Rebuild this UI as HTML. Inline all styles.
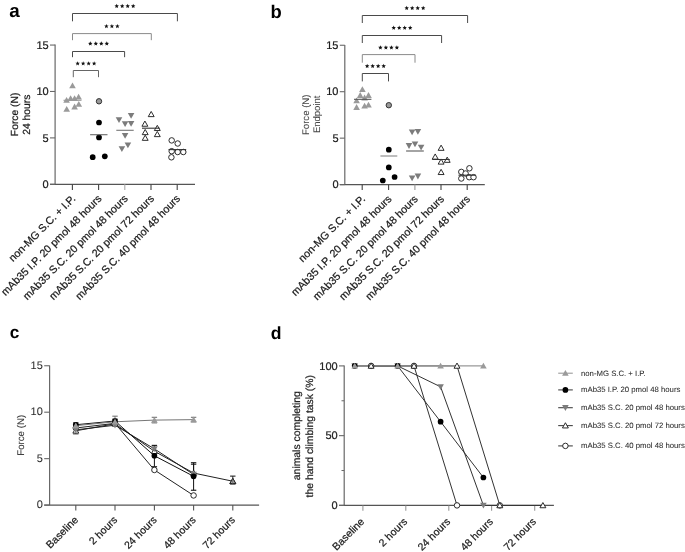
<!DOCTYPE html>
<html><head><meta charset="utf-8"><style>
html,body{margin:0;padding:0;background:#fff;overflow:hidden;}
svg{display:block;filter:blur(0.3px);}
text{font-family:"Liberation Sans",sans-serif;}
</style></head><body>
<svg style="text-rendering:geometricPrecision" width="685" height="552" viewBox="0 0 685 552" font-family="Liberation Sans, sans-serif">
<rect width="685" height="552" fill="#fff"/>
<text x="9.2" y="17.4" font-size="18.8" text-anchor="start" fill="#000" font-weight="bold">a</text>
<text x="270.6" y="17.9" font-size="18.4" text-anchor="start" fill="#000" font-weight="bold">b</text>
<text x="9.8" y="338.3" font-size="17.2" text-anchor="start" fill="#000" font-weight="bold">c</text>
<text x="270.8" y="338.8" font-size="17.6" text-anchor="start" fill="#000" font-weight="bold">d</text>
<line x1="55.10" y1="44.60" x2="55.10" y2="184.30" stroke="#686868" stroke-width="1.2"/>
<line x1="50.00" y1="184.30" x2="195.00" y2="184.30" stroke="#555" stroke-width="1.2"/>
<line x1="50.00" y1="184.30" x2="55.10" y2="184.30" stroke="#686868" stroke-width="1.1"/>
<text x="48.7" y="188.20000000000002" font-size="11.0" text-anchor="end" fill="#1a1a1a" font-weight="normal" stroke="#1a1a1a" stroke-width="0.22">0</text>
<line x1="50.00" y1="137.89" x2="55.10" y2="137.89" stroke="#686868" stroke-width="1.1"/>
<text x="48.7" y="141.78500000000003" font-size="11.0" text-anchor="end" fill="#1a1a1a" font-weight="normal" stroke="#1a1a1a" stroke-width="0.22">5</text>
<line x1="50.00" y1="91.47" x2="55.10" y2="91.47" stroke="#686868" stroke-width="1.1"/>
<text x="48.7" y="95.37000000000002" font-size="11.0" text-anchor="end" fill="#1a1a1a" font-weight="normal" stroke="#1a1a1a" stroke-width="0.22">10</text>
<line x1="50.00" y1="45.06" x2="55.10" y2="45.06" stroke="#686868" stroke-width="1.1"/>
<text x="48.7" y="48.955000000000005" font-size="11.0" text-anchor="end" fill="#1a1a1a" font-weight="normal" stroke="#1a1a1a" stroke-width="0.22">15</text>
<line x1="72.40" y1="184.30" x2="72.40" y2="189.90" stroke="#444" stroke-width="1.1"/>
<line x1="98.60" y1="184.30" x2="98.60" y2="189.90" stroke="#444" stroke-width="1.1"/>
<line x1="124.80" y1="184.30" x2="124.80" y2="189.90" stroke="#aaa" stroke-width="1.1"/>
<line x1="151.00" y1="184.30" x2="151.00" y2="189.90" stroke="#444" stroke-width="1.1"/>
<line x1="177.20" y1="184.30" x2="177.20" y2="189.90" stroke="#444" stroke-width="1.1"/>
<text x="17.8" y="114.4" font-size="10.3" text-anchor="middle" fill="#1a1a1a" font-weight="normal" stroke="#1a1a1a" stroke-width="0.22" transform="rotate(-90 17.8 114.4)">Force (N)</text>
<text x="30.1" y="114.7" font-size="10.3" text-anchor="middle" fill="#1a1a1a" font-weight="normal" stroke="#1a1a1a" stroke-width="0.22" transform="rotate(-90 30.1 114.7)">24 hours</text>
<polyline points="72.5,21.3 72.5,13.5 177.4,13.5 177.4,21.3" fill="none" stroke="#4a4a4a" stroke-width="1.0"/>
<polygon points="116.70,3.85 117.32,5.35 118.93,5.47 117.70,6.52 118.08,8.10 116.70,7.25 115.32,8.10 115.70,6.52 114.47,5.47 116.08,5.35" fill="#111"/>
<polygon points="122.20,3.85 122.82,5.35 124.43,5.47 123.20,6.52 123.58,8.10 122.20,7.25 120.82,8.10 121.20,6.52 119.97,5.47 121.58,5.35" fill="#111"/>
<polygon points="127.70,3.85 128.32,5.35 129.93,5.47 128.70,6.52 129.08,8.10 127.70,7.25 126.32,8.10 126.70,6.52 125.47,5.47 127.08,5.35" fill="#111"/>
<polygon points="133.20,3.85 133.82,5.35 135.43,5.47 134.20,6.52 134.58,8.10 133.20,7.25 131.82,8.10 132.20,6.52 130.97,5.47 132.58,5.35" fill="#111"/>
<polyline points="72.5,40.2 72.5,33.6 151.3,33.6 151.3,40.2" fill="none" stroke="#8a8a8a" stroke-width="1.0"/>
<polygon points="106.40,23.95 107.02,25.45 108.63,25.57 107.40,26.62 107.78,28.20 106.40,27.35 105.02,28.20 105.40,26.62 104.17,25.57 105.78,25.45" fill="#111"/>
<polygon points="111.90,23.95 112.52,25.45 114.13,25.57 112.90,26.62 113.28,28.20 111.90,27.35 110.52,28.20 110.90,26.62 109.67,25.57 111.28,25.45" fill="#111"/>
<polygon points="117.40,23.95 118.02,25.45 119.63,25.57 118.40,26.62 118.78,28.20 117.40,27.35 116.02,28.20 116.40,26.62 115.17,25.57 116.78,25.45" fill="#111"/>
<polyline points="72.5,57.2 72.5,51.5 124.6,51.5 124.6,57.2" fill="none" stroke="#4a4a4a" stroke-width="1.0"/>
<polygon points="90.30,41.35 90.92,42.85 92.53,42.97 91.30,44.02 91.68,45.60 90.30,44.75 88.92,45.60 89.30,44.02 88.07,42.97 89.68,42.85" fill="#111"/>
<polygon points="95.80,41.35 96.42,42.85 98.03,42.97 96.80,44.02 97.18,45.60 95.80,44.75 94.42,45.60 94.80,44.02 93.57,42.97 95.18,42.85" fill="#111"/>
<polygon points="101.30,41.35 101.92,42.85 103.53,42.97 102.30,44.02 102.68,45.60 101.30,44.75 99.92,45.60 100.30,44.02 99.07,42.97 100.68,42.85" fill="#111"/>
<polygon points="106.80,41.35 107.42,42.85 109.03,42.97 107.80,44.02 108.18,45.60 106.80,44.75 105.42,45.60 105.80,44.02 104.57,42.97 106.18,42.85" fill="#111"/>
<polyline points="73.3,77.2 73.3,70.5 98.5,70.5 98.5,77.2" fill="none" stroke="#666" stroke-width="1.0"/>
<polygon points="77.65,61.15 78.27,62.65 79.88,62.77 78.65,63.82 79.03,65.40 77.65,64.55 76.27,65.40 76.65,63.82 75.42,62.77 77.03,62.65" fill="#111"/>
<polygon points="83.15,61.15 83.77,62.65 85.38,62.77 84.15,63.82 84.53,65.40 83.15,64.55 81.77,65.40 82.15,63.82 80.92,62.77 82.53,62.65" fill="#111"/>
<polygon points="88.65,61.15 89.27,62.65 90.88,62.77 89.65,63.82 90.03,65.40 88.65,64.55 87.27,65.40 87.65,63.82 86.42,62.77 88.03,62.65" fill="#111"/>
<polygon points="94.15,61.15 94.77,62.65 96.38,62.77 95.15,63.82 95.53,65.40 94.15,64.55 92.77,65.40 93.15,63.82 91.92,62.77 93.53,62.65" fill="#111"/>
<polygon points="72.50,82.51 69.20,88.31 75.80,88.31" fill="#9a9a9a" stroke="none" stroke-width="1.0" stroke-linejoin="miter"/>
<polygon points="66.60,97.01 63.30,102.81 69.90,102.81" fill="#9a9a9a" stroke="none" stroke-width="1.0" stroke-linejoin="miter"/>
<polygon points="70.60,95.21 67.30,101.01 73.90,101.01" fill="#9a9a9a" stroke="none" stroke-width="1.0" stroke-linejoin="miter"/>
<polygon points="74.60,95.21 71.30,101.01 77.90,101.01" fill="#9a9a9a" stroke="none" stroke-width="1.0" stroke-linejoin="miter"/>
<polygon points="78.60,93.71 75.30,99.51 81.90,99.51" fill="#9a9a9a" stroke="none" stroke-width="1.0" stroke-linejoin="miter"/>
<polygon points="78.80,101.01 75.50,106.81 82.10,106.81" fill="#9a9a9a" stroke="none" stroke-width="1.0" stroke-linejoin="miter"/>
<polygon points="74.60,103.61 71.30,109.41 77.90,109.41" fill="#9a9a9a" stroke="none" stroke-width="1.0" stroke-linejoin="miter"/>
<polygon points="66.70,105.91 63.40,111.71 70.00,111.71" fill="#9a9a9a" stroke="none" stroke-width="1.0" stroke-linejoin="miter"/>
<line x1="63.50" y1="100.30" x2="81.50" y2="100.30" stroke="#9a9a9a" stroke-width="1.1"/>
<circle cx="99.00" cy="101.30" r="2.7" fill="#9a9a9a" stroke="#333" stroke-width="1.0"/>
<circle cx="99.00" cy="122.50" r="2.85" fill="#000" stroke="none" stroke-width="1.0"/>
<circle cx="99.00" cy="137.40" r="2.85" fill="#000" stroke="none" stroke-width="1.0"/>
<circle cx="92.70" cy="157.20" r="2.85" fill="#000" stroke="none" stroke-width="1.0"/>
<circle cx="104.80" cy="156.30" r="2.85" fill="#000" stroke="none" stroke-width="1.0"/>
<line x1="90.10" y1="134.70" x2="107.50" y2="134.70" stroke="#6a6a6a" stroke-width="1.1"/>
<polygon points="131.10,118.79 127.80,112.99 134.40,112.99" fill="#7c7c7c" stroke="none" stroke-width="1.0" stroke-linejoin="miter"/>
<polygon points="119.00,123.09 115.70,117.29 122.30,117.29" fill="#7c7c7c" stroke="none" stroke-width="1.0" stroke-linejoin="miter"/>
<polygon points="125.10,127.09 121.80,121.29 128.40,121.29" fill="#7c7c7c" stroke="none" stroke-width="1.0" stroke-linejoin="miter"/>
<polygon points="131.10,126.79 127.80,120.99 134.40,120.99" fill="#7c7c7c" stroke="none" stroke-width="1.0" stroke-linejoin="miter"/>
<polygon points="125.10,138.69 121.80,132.89 128.40,132.89" fill="#7c7c7c" stroke="none" stroke-width="1.0" stroke-linejoin="miter"/>
<polygon points="127.90,148.29 124.60,142.49 131.20,142.49" fill="#7c7c7c" stroke="none" stroke-width="1.0" stroke-linejoin="miter"/>
<polygon points="121.90,151.99 118.60,146.19 125.20,146.19" fill="#7c7c7c" stroke="none" stroke-width="1.0" stroke-linejoin="miter"/>
<line x1="116.30" y1="130.30" x2="133.70" y2="130.30" stroke="#777" stroke-width="1.1"/>
<polygon points="151.20,111.44 148.25,116.64 154.15,116.64" fill="#fff" stroke="#222" stroke-width="0.95" stroke-linejoin="miter"/>
<polygon points="144.90,121.04 141.95,126.24 147.85,126.24" fill="#fff" stroke="#222" stroke-width="0.95" stroke-linejoin="miter"/>
<polygon points="157.30,125.34 154.35,130.54 160.25,130.54" fill="#fff" stroke="#222" stroke-width="0.95" stroke-linejoin="miter"/>
<polygon points="145.20,129.44 142.25,134.64 148.15,134.64" fill="#fff" stroke="#222" stroke-width="0.95" stroke-linejoin="miter"/>
<polygon points="157.30,131.44 154.35,136.64 160.25,136.64" fill="#fff" stroke="#222" stroke-width="0.95" stroke-linejoin="miter"/>
<polygon points="145.20,135.14 142.25,140.34 148.15,140.34" fill="#fff" stroke="#222" stroke-width="0.95" stroke-linejoin="miter"/>
<line x1="142.00" y1="128.20" x2="159.70" y2="128.20" stroke="#333" stroke-width="1.1"/>
<circle cx="171.70" cy="140.40" r="2.75" fill="#fff" stroke="#222" stroke-width="0.95"/>
<circle cx="177.70" cy="143.50" r="2.75" fill="#fff" stroke="#222" stroke-width="0.95"/>
<circle cx="171.70" cy="151.20" r="2.75" fill="#fff" stroke="#222" stroke-width="0.95"/>
<circle cx="177.70" cy="152.00" r="2.75" fill="#fff" stroke="#222" stroke-width="0.95"/>
<circle cx="183.30" cy="152.00" r="2.75" fill="#fff" stroke="#222" stroke-width="0.95"/>
<circle cx="171.40" cy="157.30" r="2.75" fill="#fff" stroke="#222" stroke-width="0.95"/>
<line x1="168.50" y1="149.60" x2="186.20" y2="149.60" stroke="#333" stroke-width="1.1"/>
<text x="76.10000000000001" y="199.3" font-size="10.7" text-anchor="end" fill="#1a1a1a" font-weight="normal" stroke="#1a1a1a" stroke-width="0.22" transform="rotate(-45 76.10000000000001 199.3)">non-MG S.C. + I.P.</text>
<text x="102.3" y="199.3" font-size="10.7" text-anchor="end" fill="#1a1a1a" font-weight="normal" stroke="#1a1a1a" stroke-width="0.22" transform="rotate(-45 102.3 199.3)">mAb35 I.P. 20 pmol 48 hours</text>
<text x="128.5" y="199.3" font-size="10.7" text-anchor="end" fill="#1a1a1a" font-weight="normal" stroke="#1a1a1a" stroke-width="0.22" transform="rotate(-45 128.5 199.3)">mAb35 S.C. 20 pmol 48 hours</text>
<text x="154.7" y="199.3" font-size="10.7" text-anchor="end" fill="#1a1a1a" font-weight="normal" stroke="#1a1a1a" stroke-width="0.22" transform="rotate(-45 154.7 199.3)">mAb35 S.C. 20 pmol 72 hours</text>
<text x="180.89999999999998" y="199.3" font-size="10.7" text-anchor="end" fill="#1a1a1a" font-weight="normal" stroke="#1a1a1a" stroke-width="0.22" transform="rotate(-45 180.89999999999998 199.3)">mAb35 S.C. 40 pmol 48 hours</text>
<line x1="344.80" y1="44.90" x2="344.80" y2="184.60" stroke="#686868" stroke-width="1.2"/>
<line x1="339.80" y1="184.60" x2="484.80" y2="184.60" stroke="#555" stroke-width="1.2"/>
<line x1="339.80" y1="184.60" x2="344.80" y2="184.60" stroke="#686868" stroke-width="1.1"/>
<text x="338.5" y="188.1" font-size="11.0" text-anchor="end" fill="#1a1a1a" font-weight="normal" stroke="#1a1a1a" stroke-width="0.22">0</text>
<line x1="339.80" y1="138.15" x2="344.80" y2="138.15" stroke="#686868" stroke-width="1.1"/>
<text x="338.5" y="141.65" font-size="11.0" text-anchor="end" fill="#1a1a1a" font-weight="normal" stroke="#1a1a1a" stroke-width="0.22">5</text>
<line x1="339.80" y1="91.70" x2="344.80" y2="91.70" stroke="#686868" stroke-width="1.1"/>
<text x="338.5" y="95.2" font-size="11.0" text-anchor="end" fill="#1a1a1a" font-weight="normal" stroke="#1a1a1a" stroke-width="0.22">10</text>
<line x1="339.80" y1="45.25" x2="344.80" y2="45.25" stroke="#686868" stroke-width="1.1"/>
<text x="338.5" y="48.75" font-size="11.0" text-anchor="end" fill="#1a1a1a" font-weight="normal" stroke="#1a1a1a" stroke-width="0.22">15</text>
<line x1="362.20" y1="184.60" x2="362.20" y2="189.90" stroke="#444" stroke-width="1.1"/>
<line x1="388.60" y1="184.60" x2="388.60" y2="189.90" stroke="#444" stroke-width="1.1"/>
<line x1="414.90" y1="184.60" x2="414.90" y2="189.90" stroke="#999" stroke-width="1.1"/>
<line x1="441.00" y1="184.60" x2="441.00" y2="189.90" stroke="#444" stroke-width="1.1"/>
<line x1="467.20" y1="184.60" x2="467.20" y2="189.90" stroke="#444" stroke-width="1.1"/>
<text x="309.4" y="114.8" font-size="9.6" text-anchor="middle" fill="#444" font-weight="normal" stroke="#444" stroke-width="0.05" transform="rotate(-90 309.4 114.8)">Force (N)</text>
<text x="320.3" y="114.3" font-size="9.5" text-anchor="middle" fill="#444" font-weight="normal" stroke="#444" stroke-width="0.05" transform="rotate(-90 320.3 114.3)">Endpoint</text>
<polyline points="362.3,23.0 362.3,15.5 467.6,15.5 467.6,23.0" fill="none" stroke="#4a4a4a" stroke-width="1.0"/>
<polygon points="406.70,5.85 407.32,7.35 408.93,7.47 407.70,8.52 408.08,10.10 406.70,9.25 405.32,10.10 405.70,8.52 404.47,7.47 406.08,7.35" fill="#111"/>
<polygon points="412.20,5.85 412.82,7.35 414.43,7.47 413.20,8.52 413.58,10.10 412.20,9.25 410.82,10.10 411.20,8.52 409.97,7.47 411.58,7.35" fill="#111"/>
<polygon points="417.70,5.85 418.32,7.35 419.93,7.47 418.70,8.52 419.08,10.10 417.70,9.25 416.32,10.10 416.70,8.52 415.47,7.47 417.08,7.35" fill="#111"/>
<polygon points="423.20,5.85 423.82,7.35 425.43,7.47 424.20,8.52 424.58,10.10 423.20,9.25 421.82,10.10 422.20,8.52 420.97,7.47 422.58,7.35" fill="#111"/>
<polyline points="362.3,43.0 362.3,35.5 441.6,35.5 441.6,43.0" fill="none" stroke="#4a4a4a" stroke-width="1.0"/>
<polygon points="393.70,25.55 394.32,27.05 395.93,27.17 394.70,28.22 395.08,29.80 393.70,28.95 392.32,29.80 392.70,28.22 391.47,27.17 393.08,27.05" fill="#111"/>
<polygon points="399.20,25.55 399.82,27.05 401.43,27.17 400.20,28.22 400.58,29.80 399.20,28.95 397.82,29.80 398.20,28.22 396.97,27.17 398.58,27.05" fill="#111"/>
<polygon points="404.70,25.55 405.32,27.05 406.93,27.17 405.70,28.22 406.08,29.80 404.70,28.95 403.32,29.80 403.70,28.22 402.47,27.17 404.08,27.05" fill="#111"/>
<polygon points="410.20,25.55 410.82,27.05 412.43,27.17 411.20,28.22 411.58,29.80 410.20,28.95 408.82,29.80 409.20,28.22 407.97,27.17 409.58,27.05" fill="#111"/>
<polyline points="362.3,62.7 362.3,54.6 415.0,54.6 415.0,62.7" fill="none" stroke="#8a8a8a" stroke-width="1.0"/>
<polygon points="380.40,45.25 381.02,46.75 382.63,46.87 381.40,47.92 381.78,49.50 380.40,48.65 379.02,49.50 379.40,47.92 378.17,46.87 379.78,46.75" fill="#111"/>
<polygon points="385.90,45.25 386.52,46.75 388.13,46.87 386.90,47.92 387.28,49.50 385.90,48.65 384.52,49.50 384.90,47.92 383.67,46.87 385.28,46.75" fill="#111"/>
<polygon points="391.40,45.25 392.02,46.75 393.63,46.87 392.40,47.92 392.78,49.50 391.40,48.65 390.02,49.50 390.40,47.92 389.17,46.87 390.78,46.75" fill="#111"/>
<polygon points="396.90,45.25 397.52,46.75 399.13,46.87 397.90,47.92 398.28,49.50 396.90,48.65 395.52,49.50 395.90,47.92 394.67,46.87 396.28,46.75" fill="#111"/>
<polyline points="362.3,81.4 362.3,73.5 388.5,73.5 388.5,81.4" fill="none" stroke="#4a4a4a" stroke-width="1.0"/>
<polygon points="367.15,63.75 367.77,65.25 369.38,65.37 368.15,66.42 368.53,68.00 367.15,67.15 365.77,68.00 366.15,66.42 364.92,65.37 366.53,65.25" fill="#111"/>
<polygon points="372.65,63.75 373.27,65.25 374.88,65.37 373.65,66.42 374.03,68.00 372.65,67.15 371.27,68.00 371.65,66.42 370.42,65.37 372.03,65.25" fill="#111"/>
<polygon points="378.15,63.75 378.77,65.25 380.38,65.37 379.15,66.42 379.53,68.00 378.15,67.15 376.77,68.00 377.15,66.42 375.92,65.37 377.53,65.25" fill="#111"/>
<polygon points="383.65,63.75 384.27,65.25 385.88,65.37 384.65,66.42 385.03,68.00 383.65,67.15 382.27,68.00 382.65,66.42 381.42,65.37 383.03,65.25" fill="#111"/>
<polygon points="362.40,86.31 359.10,92.11 365.70,92.11" fill="#9a9a9a" stroke="none" stroke-width="1.0" stroke-linejoin="miter"/>
<polygon points="360.20,92.11 356.90,97.91 363.50,97.91" fill="#9a9a9a" stroke="none" stroke-width="1.0" stroke-linejoin="miter"/>
<polygon points="368.50,92.11 365.20,97.91 371.80,97.91" fill="#9a9a9a" stroke="none" stroke-width="1.0" stroke-linejoin="miter"/>
<polygon points="364.60,94.61 361.30,100.41 367.90,100.41" fill="#9a9a9a" stroke="none" stroke-width="1.0" stroke-linejoin="miter"/>
<polygon points="356.60,97.51 353.30,103.31 359.90,103.31" fill="#9a9a9a" stroke="none" stroke-width="1.0" stroke-linejoin="miter"/>
<polygon points="364.60,102.71 361.30,108.51 367.90,108.51" fill="#9a9a9a" stroke="none" stroke-width="1.0" stroke-linejoin="miter"/>
<polygon points="368.50,101.81 365.20,107.61 371.80,107.61" fill="#9a9a9a" stroke="none" stroke-width="1.0" stroke-linejoin="miter"/>
<polygon points="356.60,104.11 353.30,109.91 359.90,109.91" fill="#9a9a9a" stroke="none" stroke-width="1.0" stroke-linejoin="miter"/>
<line x1="354.00" y1="99.30" x2="371.40" y2="99.30" stroke="#555" stroke-width="1.1"/>
<circle cx="388.80" cy="105.20" r="2.7" fill="#9a9a9a" stroke="#333" stroke-width="1.0"/>
<circle cx="388.80" cy="149.70" r="2.85" fill="#000" stroke="none" stroke-width="1.0"/>
<circle cx="388.80" cy="167.40" r="2.85" fill="#000" stroke="none" stroke-width="1.0"/>
<circle cx="382.80" cy="180.50" r="2.85" fill="#000" stroke="none" stroke-width="1.0"/>
<circle cx="394.60" cy="177.00" r="2.85" fill="#000" stroke="none" stroke-width="1.0"/>
<line x1="380.40" y1="156.00" x2="397.30" y2="156.00" stroke="#888" stroke-width="1.1"/>
<polygon points="412.10,135.19 408.80,129.39 415.40,129.39" fill="#7c7c7c" stroke="none" stroke-width="1.0" stroke-linejoin="miter"/>
<polygon points="417.90,134.79 414.60,128.99 421.20,128.99" fill="#7c7c7c" stroke="none" stroke-width="1.0" stroke-linejoin="miter"/>
<polygon points="409.00,148.89 405.70,143.09 412.30,143.09" fill="#7c7c7c" stroke="none" stroke-width="1.0" stroke-linejoin="miter"/>
<polygon points="415.00,147.29 411.70,141.49 418.30,141.49" fill="#7c7c7c" stroke="none" stroke-width="1.0" stroke-linejoin="miter"/>
<polygon points="421.10,150.49 417.80,144.69 424.40,144.69" fill="#7c7c7c" stroke="none" stroke-width="1.0" stroke-linejoin="miter"/>
<polygon points="412.10,181.29 408.80,175.49 415.40,175.49" fill="#7c7c7c" stroke="none" stroke-width="1.0" stroke-linejoin="miter"/>
<polygon points="417.90,179.39 414.60,173.59 421.20,173.59" fill="#7c7c7c" stroke="none" stroke-width="1.0" stroke-linejoin="miter"/>
<line x1="406.10" y1="151.00" x2="423.80" y2="151.00" stroke="#5a5a5a" stroke-width="1.1"/>
<polygon points="441.10,145.14 438.15,150.34 444.05,150.34" fill="#fff" stroke="#222" stroke-width="0.95" stroke-linejoin="miter"/>
<polygon points="435.20,153.94 432.25,159.14 438.15,159.14" fill="#fff" stroke="#222" stroke-width="0.95" stroke-linejoin="miter"/>
<polygon points="441.10,158.94 438.15,164.14 444.05,164.14" fill="#fff" stroke="#222" stroke-width="0.95" stroke-linejoin="miter"/>
<polygon points="447.20,157.14 444.25,162.34 450.15,162.34" fill="#fff" stroke="#222" stroke-width="0.95" stroke-linejoin="miter"/>
<polygon points="441.10,169.34 438.15,174.54 444.05,174.54" fill="#fff" stroke="#222" stroke-width="0.95" stroke-linejoin="miter"/>
<line x1="432.30" y1="159.50" x2="449.80" y2="159.50" stroke="#333" stroke-width="1.0"/>
<circle cx="469.40" cy="168.30" r="2.75" fill="#fff" stroke="#222" stroke-width="0.95"/>
<circle cx="461.30" cy="171.90" r="2.75" fill="#fff" stroke="#222" stroke-width="0.95"/>
<circle cx="465.60" cy="173.50" r="2.75" fill="#fff" stroke="#222" stroke-width="0.95"/>
<circle cx="461.30" cy="178.50" r="2.75" fill="#fff" stroke="#222" stroke-width="0.95"/>
<circle cx="469.20" cy="177.20" r="2.75" fill="#fff" stroke="#222" stroke-width="0.95"/>
<circle cx="473.50" cy="177.20" r="2.75" fill="#fff" stroke="#222" stroke-width="0.95"/>
<line x1="458.50" y1="175.20" x2="475.80" y2="175.20" stroke="#333" stroke-width="1.1"/>
<text x="365.9" y="199.6" font-size="10.7" text-anchor="end" fill="#1a1a1a" font-weight="normal" stroke="#1a1a1a" stroke-width="0.22" transform="rotate(-45 365.9 199.6)">non-MG S.C. + I.P.</text>
<text x="392.3" y="199.6" font-size="10.7" text-anchor="end" fill="#1a1a1a" font-weight="normal" stroke="#1a1a1a" stroke-width="0.22" transform="rotate(-45 392.3 199.6)">mAb35 I.P. 20 pmol 48 hours</text>
<text x="418.59999999999997" y="199.6" font-size="10.7" text-anchor="end" fill="#1a1a1a" font-weight="normal" stroke="#1a1a1a" stroke-width="0.22" transform="rotate(-45 418.59999999999997 199.6)">mAb35 S.C. 20 pmol 48 hours</text>
<text x="444.7" y="199.6" font-size="10.7" text-anchor="end" fill="#1a1a1a" font-weight="normal" stroke="#1a1a1a" stroke-width="0.22" transform="rotate(-45 444.7 199.6)">mAb35 S.C. 20 pmol 72 hours</text>
<text x="470.9" y="199.6" font-size="10.7" text-anchor="end" fill="#1a1a1a" font-weight="normal" stroke="#1a1a1a" stroke-width="0.22" transform="rotate(-45 470.9 199.6)">mAb35 S.C. 40 pmol 48 hours</text>
<line x1="49.60" y1="365.40" x2="49.60" y2="505.10" stroke="#686868" stroke-width="1.2"/>
<line x1="44.20" y1="505.10" x2="259.10" y2="505.10" stroke="#555" stroke-width="1.2"/>
<line x1="44.20" y1="505.10" x2="49.60" y2="505.10" stroke="#686868" stroke-width="1.1"/>
<text x="42.8" y="508.3" font-size="11.0" text-anchor="end" fill="#2a2a2a" font-weight="normal" stroke="#2a2a2a" stroke-width="0.05">0</text>
<line x1="44.20" y1="458.65" x2="49.60" y2="458.65" stroke="#686868" stroke-width="1.1"/>
<text x="42.8" y="461.85" font-size="11.0" text-anchor="end" fill="#2a2a2a" font-weight="normal" stroke="#2a2a2a" stroke-width="0.05">5</text>
<line x1="44.20" y1="412.20" x2="49.60" y2="412.20" stroke="#686868" stroke-width="1.1"/>
<text x="42.8" y="415.40000000000003" font-size="11.0" text-anchor="end" fill="#2a2a2a" font-weight="normal" stroke="#2a2a2a" stroke-width="0.05">10</text>
<line x1="44.20" y1="365.75" x2="49.60" y2="365.75" stroke="#686868" stroke-width="1.1"/>
<text x="42.8" y="368.95" font-size="11.0" text-anchor="end" fill="#2a2a2a" font-weight="normal" stroke="#2a2a2a" stroke-width="0.05">15</text>
<line x1="75.80" y1="505.10" x2="75.80" y2="510.60" stroke="#555" stroke-width="1.1"/>
<line x1="115.00" y1="505.10" x2="115.00" y2="510.60" stroke="#555" stroke-width="1.1"/>
<line x1="154.40" y1="505.10" x2="154.40" y2="510.60" stroke="#555" stroke-width="1.1"/>
<line x1="193.60" y1="505.10" x2="193.60" y2="510.60" stroke="#555" stroke-width="1.1"/>
<line x1="232.80" y1="505.10" x2="232.80" y2="510.60" stroke="#555" stroke-width="1.1"/>
<text x="23.6" y="435.3" font-size="9.7" text-anchor="middle" fill="#404040" font-weight="normal" stroke="#404040" stroke-width="0.1" transform="rotate(-90 23.6 435.3)">Force (N)</text>
<text x="78.8" y="520.6" font-size="10.5" text-anchor="end" fill="#1a1a1a" font-weight="normal" stroke="#1a1a1a" stroke-width="0.22" transform="rotate(-45 78.8 520.6)">Baseline</text>
<text x="118.0" y="520.6" font-size="10.5" text-anchor="end" fill="#1a1a1a" font-weight="normal" stroke="#1a1a1a" stroke-width="0.22" transform="rotate(-45 118.0 520.6)">2 hours</text>
<text x="157.4" y="520.6" font-size="10.5" text-anchor="end" fill="#1a1a1a" font-weight="normal" stroke="#1a1a1a" stroke-width="0.22" transform="rotate(-45 157.4 520.6)">24 hours</text>
<text x="196.6" y="520.6" font-size="10.5" text-anchor="end" fill="#1a1a1a" font-weight="normal" stroke="#1a1a1a" stroke-width="0.22" transform="rotate(-45 196.6 520.6)">48 hours</text>
<text x="235.8" y="520.6" font-size="10.5" text-anchor="end" fill="#1a1a1a" font-weight="normal" stroke="#1a1a1a" stroke-width="0.22" transform="rotate(-45 235.8 520.6)">72 hours</text>
<polyline points="75.8,427.99 115.0,423.35 154.4,469.98 193.6,495.44" fill="none" stroke="#222" stroke-width="1.0"/>
<polyline points="75.8,430.78 115.0,423.81 154.4,451.22 193.6,473.05 232.8,481.22" fill="none" stroke="#222" stroke-width="1.0"/>
<polyline points="75.8,429.85 115.0,425.21 154.4,448.90 193.6,474.44" fill="none" stroke="#222" stroke-width="1.0"/>
<polyline points="75.8,424.74 115.0,421.03 154.4,455.77 193.6,476.30" fill="none" stroke="#111" stroke-width="1.0"/>
<polyline points="75.8,425.67 115.0,421.77 154.4,420.10 193.6,419.63" fill="none" stroke="#767676" stroke-width="1.0"/>
<line x1="193.60" y1="464.22" x2="193.60" y2="473.05" stroke="#222" stroke-width="1.0"/>
<line x1="190.90" y1="464.22" x2="196.30" y2="464.22" stroke="#222" stroke-width="1.1"/>
<line x1="232.80" y1="476.12" x2="232.80" y2="481.22" stroke="#222" stroke-width="1.0"/>
<line x1="230.10" y1="476.12" x2="235.50" y2="476.12" stroke="#222" stroke-width="1.1"/>
<line x1="232.80" y1="481.22" x2="232.80" y2="484.01" stroke="#222" stroke-width="1.0"/>
<line x1="230.10" y1="484.01" x2="235.50" y2="484.01" stroke="#222" stroke-width="1.1"/>
<line x1="75.80" y1="422.88" x2="75.80" y2="424.74" stroke="#111" stroke-width="1.0"/>
<line x1="73.10" y1="422.88" x2="78.50" y2="422.88" stroke="#111" stroke-width="1.1"/>
<line x1="115.00" y1="419.17" x2="115.00" y2="421.03" stroke="#111" stroke-width="1.0"/>
<line x1="112.30" y1="419.17" x2="117.70" y2="419.17" stroke="#111" stroke-width="1.1"/>
<line x1="154.40" y1="445.37" x2="154.40" y2="455.77" stroke="#111" stroke-width="1.0"/>
<line x1="151.70" y1="445.37" x2="157.10" y2="445.37" stroke="#111" stroke-width="1.1"/>
<line x1="154.40" y1="455.77" x2="154.40" y2="466.73" stroke="#111" stroke-width="1.0"/>
<line x1="151.70" y1="466.73" x2="157.10" y2="466.73" stroke="#111" stroke-width="1.1"/>
<line x1="193.60" y1="462.74" x2="193.60" y2="476.30" stroke="#111" stroke-width="1.0"/>
<line x1="190.90" y1="462.74" x2="196.30" y2="462.74" stroke="#111" stroke-width="1.1"/>
<line x1="193.60" y1="476.30" x2="193.60" y2="490.24" stroke="#111" stroke-width="1.0"/>
<line x1="190.90" y1="490.24" x2="196.30" y2="490.24" stroke="#111" stroke-width="1.1"/>
<line x1="75.80" y1="425.67" x2="75.80" y2="434.03" stroke="#767676" stroke-width="1.0"/>
<line x1="73.10" y1="434.03" x2="78.50" y2="434.03" stroke="#767676" stroke-width="1.1"/>
<line x1="115.00" y1="416.19" x2="115.00" y2="421.77" stroke="#767676" stroke-width="1.0"/>
<line x1="112.30" y1="416.19" x2="117.70" y2="416.19" stroke="#767676" stroke-width="1.1"/>
<line x1="154.40" y1="417.31" x2="154.40" y2="420.10" stroke="#767676" stroke-width="1.0"/>
<line x1="151.70" y1="417.31" x2="157.10" y2="417.31" stroke="#767676" stroke-width="1.1"/>
<line x1="154.40" y1="420.10" x2="154.40" y2="422.88" stroke="#767676" stroke-width="1.0"/>
<line x1="151.70" y1="422.88" x2="157.10" y2="422.88" stroke="#767676" stroke-width="1.1"/>
<line x1="193.60" y1="417.31" x2="193.60" y2="419.63" stroke="#767676" stroke-width="1.0"/>
<line x1="190.90" y1="417.31" x2="196.30" y2="417.31" stroke="#767676" stroke-width="1.1"/>
<line x1="193.60" y1="419.63" x2="193.60" y2="421.95" stroke="#767676" stroke-width="1.0"/>
<line x1="190.90" y1="421.95" x2="196.30" y2="421.95" stroke="#767676" stroke-width="1.1"/>
<circle cx="75.80" cy="427.99" r="2.75" fill="#fff" stroke="#222" stroke-width="0.95"/>
<circle cx="115.00" cy="423.35" r="2.75" fill="#fff" stroke="#222" stroke-width="0.95"/>
<circle cx="154.40" cy="469.98" r="2.75" fill="#fff" stroke="#222" stroke-width="0.95"/>
<circle cx="193.60" cy="495.44" r="2.75" fill="#fff" stroke="#222" stroke-width="0.95"/>
<polygon points="75.80,427.92 72.85,433.12 78.75,433.12" fill="#fff" stroke="#222" stroke-width="0.95" stroke-linejoin="miter"/>
<polygon points="115.00,420.96 112.05,426.15 117.95,426.15" fill="#fff" stroke="#222" stroke-width="0.95" stroke-linejoin="miter"/>
<polygon points="154.40,448.36 151.45,453.55 157.35,453.55" fill="#fff" stroke="#222" stroke-width="0.95" stroke-linejoin="miter"/>
<polygon points="193.60,470.19 190.65,475.39 196.55,475.39" fill="#fff" stroke="#222" stroke-width="0.95" stroke-linejoin="miter"/>
<polygon points="232.80,478.37 229.85,483.56 235.75,483.56" fill="#fff" stroke="#222" stroke-width="0.95" stroke-linejoin="miter"/>
<polygon points="75.80,433.05 72.50,427.24 79.10,427.24" fill="#7c7c7c" stroke="none" stroke-width="1.0" stroke-linejoin="miter"/>
<polygon points="115.00,428.40 111.70,422.59 118.30,422.59" fill="#7c7c7c" stroke="none" stroke-width="1.0" stroke-linejoin="miter"/>
<polygon points="154.40,452.09 151.10,446.28 157.70,446.28" fill="#7c7c7c" stroke="none" stroke-width="1.0" stroke-linejoin="miter"/>
<polygon points="193.60,477.64 190.30,471.83 196.90,471.83" fill="#7c7c7c" stroke="none" stroke-width="1.0" stroke-linejoin="miter"/>
<circle cx="75.80" cy="424.74" r="2.85" fill="#000" stroke="none" stroke-width="1.0"/>
<circle cx="115.00" cy="421.03" r="2.85" fill="#000" stroke="none" stroke-width="1.0"/>
<circle cx="154.40" cy="455.77" r="2.85" fill="#000" stroke="none" stroke-width="1.0"/>
<circle cx="193.60" cy="476.30" r="2.85" fill="#000" stroke="none" stroke-width="1.0"/>
<polygon points="75.80,422.48 72.50,428.28 79.10,428.28" fill="#9a9a9a" stroke="none" stroke-width="1.0" stroke-linejoin="miter"/>
<polygon points="115.00,418.57 111.70,424.38 118.30,424.38" fill="#9a9a9a" stroke="none" stroke-width="1.0" stroke-linejoin="miter"/>
<polygon points="154.40,416.90 151.10,422.71 157.70,422.71" fill="#9a9a9a" stroke="none" stroke-width="1.0" stroke-linejoin="miter"/>
<polygon points="193.60,416.44 190.30,422.25 196.90,422.25" fill="#9a9a9a" stroke="none" stroke-width="1.0" stroke-linejoin="miter"/>
<polygon points="232.80,478.37 229.85,483.56 235.75,483.56" fill="#a8a8a8" stroke="#222" stroke-width="0.95" stroke-linejoin="miter"/>
<line x1="232.80" y1="479.72" x2="232.80" y2="483.82" stroke="#666" stroke-width="0.9"/>
<line x1="344.20" y1="365.60" x2="344.20" y2="505.40" stroke="#686868" stroke-width="1.2"/>
<line x1="339.00" y1="505.40" x2="553.90" y2="505.40" stroke="#555" stroke-width="1.2"/>
<line x1="339.00" y1="505.40" x2="344.20" y2="505.40" stroke="#686868" stroke-width="1.1"/>
<text x="337.7" y="509.2" font-size="11.0" text-anchor="end" fill="#222" font-weight="normal" stroke="#222" stroke-width="0.22">0</text>
<line x1="339.00" y1="435.65" x2="344.20" y2="435.65" stroke="#686868" stroke-width="1.1"/>
<text x="337.7" y="439.45" font-size="11.0" text-anchor="end" fill="#222" font-weight="normal" stroke="#222" stroke-width="0.22">50</text>
<line x1="339.00" y1="365.90" x2="344.20" y2="365.90" stroke="#686868" stroke-width="1.1"/>
<text x="337.7" y="369.7" font-size="11.0" text-anchor="end" fill="#222" font-weight="normal" stroke="#222" stroke-width="0.22">100</text>
<line x1="341.50" y1="470.52" x2="344.20" y2="470.52" stroke="#686868" stroke-width="1.0"/>
<line x1="341.50" y1="400.77" x2="344.20" y2="400.77" stroke="#686868" stroke-width="1.0"/>
<line x1="362.90" y1="505.40" x2="362.90" y2="510.70" stroke="#999" stroke-width="1.1"/>
<line x1="405.80" y1="505.40" x2="405.80" y2="510.70" stroke="#999" stroke-width="1.1"/>
<line x1="448.80" y1="505.40" x2="448.80" y2="510.70" stroke="#999" stroke-width="1.1"/>
<line x1="491.60" y1="505.40" x2="491.60" y2="510.70" stroke="#999" stroke-width="1.1"/>
<line x1="534.70" y1="505.40" x2="534.70" y2="510.70" stroke="#999" stroke-width="1.1"/>
<text x="300.2" y="435.7" font-size="10.4" text-anchor="middle" fill="#222" font-weight="normal" stroke="#222" stroke-width="0.22" transform="rotate(-90 300.2 435.7)">animals completing</text>
<text x="312.6" y="436.2" font-size="10.4" text-anchor="middle" fill="#222" font-weight="normal" stroke="#222" stroke-width="0.22" transform="rotate(-90 312.6 436.2)">the hand climbing task (%)</text>
<text x="365.0" y="522.4" font-size="10.5" text-anchor="end" fill="#1a1a1a" font-weight="normal" stroke="#1a1a1a" stroke-width="0.22" transform="rotate(-45 365.0 522.4)">Baseline</text>
<text x="407.90000000000003" y="522.4" font-size="10.5" text-anchor="end" fill="#1a1a1a" font-weight="normal" stroke="#1a1a1a" stroke-width="0.22" transform="rotate(-45 407.90000000000003 522.4)">2 hours</text>
<text x="450.90000000000003" y="522.4" font-size="10.5" text-anchor="end" fill="#1a1a1a" font-weight="normal" stroke="#1a1a1a" stroke-width="0.22" transform="rotate(-45 450.90000000000003 522.4)">24 hours</text>
<text x="493.70000000000005" y="522.4" font-size="10.5" text-anchor="end" fill="#1a1a1a" font-weight="normal" stroke="#1a1a1a" stroke-width="0.22" transform="rotate(-45 493.70000000000005 522.4)">48 hours</text>
<text x="536.8000000000001" y="522.4" font-size="10.5" text-anchor="end" fill="#1a1a1a" font-weight="normal" stroke="#1a1a1a" stroke-width="0.22" transform="rotate(-45 536.8000000000001 522.4)">72 hours</text>
<polyline points="371.10,365.90 414.00,365.90 457.00,505.40 499.80,505.40" fill="none" stroke="#333" stroke-width="1.0"/>
<polyline points="371.10,365.90 414.00,365.90 457.00,365.90 499.80,505.40 542.90,505.40" fill="none" stroke="#333" stroke-width="1.0"/>
<polyline points="354.70,365.90 397.60,365.90 440.60,386.82 483.40,505.40" fill="none" stroke="#333" stroke-width="1.0"/>
<polyline points="354.70,365.90 397.60,365.90 440.60,421.70 483.40,477.50" fill="none" stroke="#333" stroke-width="1.0"/>
<polyline points="354.70,365.90 397.60,365.90 440.60,365.90 483.40,365.90" fill="none" stroke="#999" stroke-width="1.4"/>
<circle cx="371.10" cy="365.90" r="2.75" fill="#fff" stroke="#222" stroke-width="0.95"/>
<circle cx="414.00" cy="365.90" r="2.75" fill="#fff" stroke="#222" stroke-width="0.95"/>
<circle cx="457.00" cy="505.40" r="2.75" fill="#fff" stroke="#222" stroke-width="0.95"/>
<circle cx="499.80" cy="505.40" r="2.75" fill="#fff" stroke="#222" stroke-width="0.95"/>
<polygon points="371.10,363.04 368.15,368.24 374.05,368.24" fill="#fff" stroke="#222" stroke-width="0.95" stroke-linejoin="miter"/>
<polygon points="414.00,363.04 411.05,368.24 416.95,368.24" fill="#fff" stroke="#222" stroke-width="0.95" stroke-linejoin="miter"/>
<polygon points="457.00,363.04 454.05,368.24 459.95,368.24" fill="#fff" stroke="#222" stroke-width="0.95" stroke-linejoin="miter"/>
<polygon points="499.80,502.54 496.85,507.74 502.75,507.74" fill="#fff" stroke="#222" stroke-width="0.95" stroke-linejoin="miter"/>
<polygon points="542.90,502.54 539.95,507.74 545.85,507.74" fill="#fff" stroke="#222" stroke-width="0.95" stroke-linejoin="miter"/>
<polygon points="354.70,369.09 351.40,363.29 358.00,363.29" fill="#7c7c7c" stroke="none" stroke-width="1.0" stroke-linejoin="miter"/>
<polygon points="397.60,369.09 394.30,363.29 400.90,363.29" fill="#7c7c7c" stroke="none" stroke-width="1.0" stroke-linejoin="miter"/>
<polygon points="440.60,390.02 437.30,384.21 443.90,384.21" fill="#7c7c7c" stroke="none" stroke-width="1.0" stroke-linejoin="miter"/>
<polygon points="483.40,508.59 480.10,502.79 486.70,502.79" fill="#7c7c7c" stroke="none" stroke-width="1.0" stroke-linejoin="miter"/>
<circle cx="354.70" cy="365.90" r="2.85" fill="#000" stroke="none" stroke-width="1.0"/>
<circle cx="397.60" cy="365.90" r="2.85" fill="#000" stroke="none" stroke-width="1.0"/>
<circle cx="440.60" cy="421.70" r="2.85" fill="#000" stroke="none" stroke-width="1.0"/>
<circle cx="483.40" cy="477.50" r="2.85" fill="#000" stroke="none" stroke-width="1.0"/>
<polygon points="354.70,362.71 351.40,368.51 358.00,368.51" fill="#9a9a9a" stroke="none" stroke-width="1.0" stroke-linejoin="miter"/>
<polygon points="397.60,362.71 394.30,368.51 400.90,368.51" fill="#9a9a9a" stroke="none" stroke-width="1.0" stroke-linejoin="miter"/>
<polygon points="440.60,362.71 437.30,368.51 443.90,368.51" fill="#9a9a9a" stroke="none" stroke-width="1.0" stroke-linejoin="miter"/>
<polygon points="483.40,362.71 480.10,368.51 486.70,368.51" fill="#9a9a9a" stroke="none" stroke-width="1.0" stroke-linejoin="miter"/>
<line x1="558.20" y1="373.20" x2="572.80" y2="373.20" stroke="#9a9a9a" stroke-width="1.1"/>
<polygon points="565.40,370.01 562.10,375.81 568.70,375.81" fill="#9a9a9a" stroke="none" stroke-width="1.0" stroke-linejoin="miter"/>
<text x="581.0" y="375.7" font-size="7.75" text-anchor="start" fill="#2a2a2a" font-weight="normal" stroke="#2a2a2a" stroke-width="0.05">non-MG S.C. + I.P.</text>
<line x1="558.20" y1="389.90" x2="572.80" y2="389.90" stroke="#444" stroke-width="1.1"/>
<circle cx="565.40" cy="389.90" r="2.85" fill="#000" stroke="none" stroke-width="1.0"/>
<text x="581.0" y="392.4" font-size="7.75" text-anchor="start" fill="#2a2a2a" font-weight="normal" stroke="#2a2a2a" stroke-width="0.05">mAb35 I.P. 20 pmol 48 hours</text>
<line x1="558.20" y1="407.70" x2="572.80" y2="407.70" stroke="#444" stroke-width="1.1"/>
<polygon points="565.40,410.89 562.10,405.09 568.70,405.09" fill="#7c7c7c" stroke="none" stroke-width="1.0" stroke-linejoin="miter"/>
<text x="581.0" y="410.2" font-size="7.75" text-anchor="start" fill="#2a2a2a" font-weight="normal" stroke="#2a2a2a" stroke-width="0.05">mAb35 S.C. 20 pmol 48 hours</text>
<line x1="558.20" y1="425.60" x2="572.80" y2="425.60" stroke="#444" stroke-width="1.1"/>
<polygon points="565.40,422.74 562.45,427.94 568.35,427.94" fill="#fff" stroke="#222" stroke-width="0.95" stroke-linejoin="miter"/>
<text x="581.0" y="428.1" font-size="7.75" text-anchor="start" fill="#2a2a2a" font-weight="normal" stroke="#2a2a2a" stroke-width="0.05">mAb35 S.C. 20 pmol 72 hours</text>
<line x1="558.20" y1="445.90" x2="572.80" y2="445.90" stroke="#444" stroke-width="1.1"/>
<circle cx="565.40" cy="445.90" r="2.75" fill="#fff" stroke="#222" stroke-width="0.95"/>
<text x="581.0" y="448.4" font-size="7.75" text-anchor="start" fill="#2a2a2a" font-weight="normal" stroke="#2a2a2a" stroke-width="0.05">mAb35 S.C. 40 pmol 48 hours</text>
</svg></body></html>
